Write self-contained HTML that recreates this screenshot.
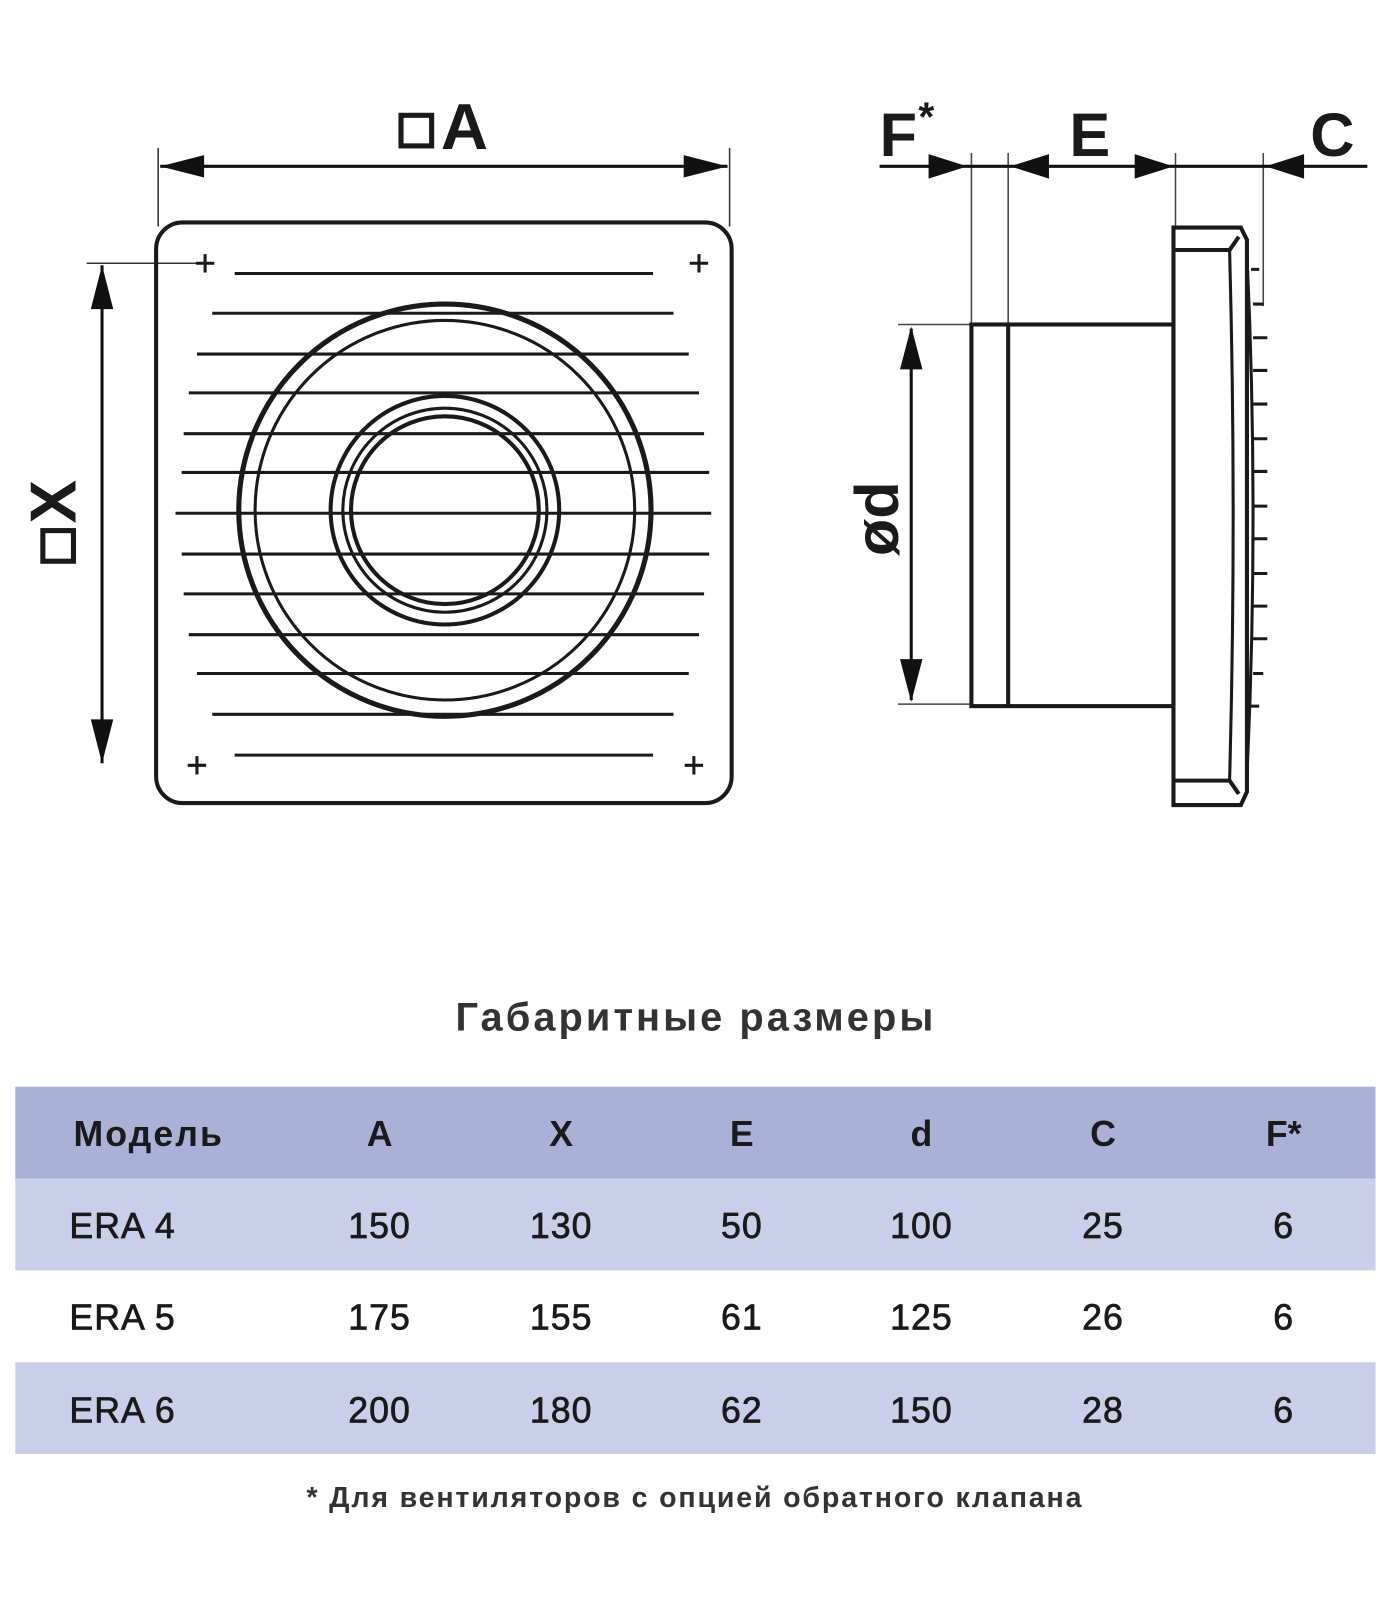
<!DOCTYPE html>
<html><head><meta charset="utf-8"><style>
html,body{margin:0;padding:0;background:#fff;}
svg{display:block;}
</style></head><body>
<svg width="1400" height="1600" viewBox="0 0 1372 1568" preserveAspectRatio="none" xmlns="http://www.w3.org/2000/svg">
<g font-family="Liberation Sans, DejaVu Sans, sans-serif" font-weight="bold" fill="#1a1a1a">
<!-- A label -->
<rect x="393" y="113" width="30" height="30" fill="none" stroke="#1a1a1a" stroke-width="5"/>
<text x="432" y="146" font-size="64">A</text>
<!-- A dim -->
<line x1="155" y1="145" x2="155" y2="222" stroke="#333" stroke-width="1.5"/>
<line x1="715" y1="145" x2="715" y2="222" stroke="#333" stroke-width="1.5"/>
<line x1="157" y1="163" x2="713" y2="163" stroke="#111" stroke-width="3"/>
<path d="M157,163 L200,152 L200,174z M713,163 L670,152 L670,174z" fill="#111"/>
<!-- X dim -->
<line x1="85" y1="258" x2="200" y2="258" stroke="#333" stroke-width="1.5"/>
<line x1="100" y1="260" x2="100" y2="748" stroke="#111" stroke-width="3"/>
<path d="M100,260 L89,303 L111,303z M100,748 L89,705 L111,705z" fill="#111"/>
<g transform="translate(74,550) rotate(-90)">
<rect x="0" y="-32" width="30" height="30" fill="none" stroke="#1a1a1a" stroke-width="5"/>
<text x="37" y="0" font-size="64">X</text>
</g>
<!-- front grille -->
<rect x="153" y="218" width="564" height="569" rx="26" fill="none" stroke="#1a1a1a" stroke-width="4"/>
<g stroke="#1a1a1a" stroke-width="3">
<path d="M192,258h18M201,249v18 M676,258h18M685,249v18 M184,750h18M193,741v18 M671,750h18M680,741v18"/>
<line x1="230" y1="268" x2="640" y2="268"/>
<line x1="208" y1="307" x2="660" y2="307"/>
<line x1="193" y1="347" x2="675" y2="347"/>
<line x1="185" y1="385" x2="685" y2="385"/>
<line x1="180" y1="425" x2="690" y2="425"/>
<line x1="178" y1="463" x2="695" y2="463"/>
<line x1="172" y1="503" x2="697" y2="503"/>
<line x1="178" y1="543" x2="695" y2="543"/>
<line x1="180" y1="582" x2="690" y2="582"/>
<line x1="185" y1="622" x2="685" y2="622"/>
<line x1="193" y1="660" x2="675" y2="660"/>
<line x1="208" y1="700" x2="660" y2="700"/>
<line x1="230" y1="740" x2="640" y2="740"/>
</g>
<g fill="none" stroke="#1a1a1a">
<circle cx="436" cy="500" r="202" stroke-width="5"/>
<circle cx="436" cy="500" r="186" stroke-width="3"/>
<circle cx="436" cy="500" r="112" stroke-width="4"/>
<circle cx="436" cy="500" r="100" stroke-width="3"/>
<circle cx="436" cy="500" r="92" stroke-width="4"/>
</g>
<!-- side view labels -->
<text x="862" y="153" font-size="60">F</text>
<text x="900" y="128" font-size="40">*</text>
<text x="1048" y="153" font-size="60">E</text>
<text x="1284" y="153" font-size="60">C</text>
<g stroke="#444" stroke-width="1.5">
<line x1="952" y1="150" x2="952" y2="690"/>
<line x1="988" y1="150" x2="988" y2="320"/>
<line x1="1152" y1="150" x2="1152" y2="225"/>
<line x1="1238" y1="150" x2="1238" y2="300"/>
<line x1="880" y1="318" x2="952" y2="318"/>
<line x1="880" y1="690" x2="952" y2="690"/>
</g>
<line x1="862" y1="163" x2="1340" y2="163" stroke="#111" stroke-width="3"/>
<path d="M948,163 L910,151 L910,175z M990,163 L1028,151 L1028,175z M1150,163 L1112,151 L1112,175z M1240,163 L1278,151 L1278,175z" fill="#111"/>
<!-- od dim -->
<line x1="893" y1="322" x2="893" y2="686" stroke="#111" stroke-width="3"/>
<path d="M893,320 L882,362 L904,362z M893,688 L882,646 L904,646z" fill="#111"/>
<text transform="translate(880,545) rotate(-90)" font-size="60">ød</text>
<!-- duct -->
<rect x="952" y="318" width="198" height="374" fill="none" stroke="#1a1a1a" stroke-width="4"/>
<line x1="988" y1="318" x2="988" y2="692" stroke="#1a1a1a" stroke-width="4"/>
<!-- flange -->
<g fill="none" stroke="#1a1a1a" stroke-width="4">
<path d="M1150,223 L1216,223 L1222,235 L1222,776 L1216,789 L1150,789 Z"/>
<path d="M1150,245 L1205,245 L1214,232 M1150,765 L1205,765 L1214,778"/>
<path d="M1205,245 Q1212,505 1205,765" stroke-width="3"/>
<path d="M1222,250 Q1234,505 1222,760" stroke-width="3"/>
</g>
<g stroke="#1a1a1a" stroke-width="3">
<path d="M1226,264h8 M1228,298h10 M1228,331h14 M1228,363h14 M1228,396h14 M1228,430h14 M1228,462h14 M1228,496h14 M1228,528h14 M1228,562h14 M1228,594h14 M1228,626h14 M1228,660h10 M1226,692h8"/>
</g>
<!-- title -->
<text x="682" y="1010" font-size="39" letter-spacing="3" text-anchor="middle" fill="#333">Габаритные размеры</text>
</g>
<!-- table -->
<rect x="15" y="1065" width="1333" height="90" fill="#a9b2d6"/>
<rect x="15" y="1155" width="1333" height="90" fill="#c9cfe8"/>
<rect x="15" y="1335" width="1333" height="90" fill="#c9cfe8"/>
<g font-family="Liberation Sans, DejaVu Sans, sans-serif" font-size="35" fill="#1a1a1a" text-anchor="middle" stroke="#1a1a1a" stroke-width="0.7">
<g font-weight="bold" stroke-width="0">
<text x="72" y="1123" text-anchor="start" letter-spacing="2">Модель</text>
<text x="372" y="1123">A</text><text x="550" y="1123">X</text><text x="727" y="1123">E</text><text x="903" y="1123">d</text><text x="1081" y="1123">C</text><text x="1258" y="1123">F*</text>
</g>
<g letter-spacing="1">
<text x="68" y="1213" text-anchor="start">ERA 4</text>
<text x="372" y="1213">150</text><text x="550" y="1213">130</text><text x="727" y="1213">50</text><text x="903" y="1213">100</text><text x="1081" y="1213">25</text><text x="1258" y="1213">6</text>
<text x="68" y="1303" text-anchor="start">ERA 5</text>
<text x="372" y="1303">175</text><text x="550" y="1303">155</text><text x="727" y="1303">61</text><text x="903" y="1303">125</text><text x="1081" y="1303">26</text><text x="1258" y="1303">6</text>
<text x="68" y="1394" text-anchor="start">ERA 6</text>
<text x="372" y="1394">200</text><text x="550" y="1394">180</text><text x="727" y="1394">62</text><text x="903" y="1394">150</text><text x="1081" y="1394">28</text><text x="1258" y="1394">6</text>
</g>
<text x="681" y="1477" font-size="28" letter-spacing="1.8" font-weight="bold" fill="#333" stroke-width="0">* Для вентиляторов с опцией обратного клапана</text>
</g>
</svg>
</body></html>
